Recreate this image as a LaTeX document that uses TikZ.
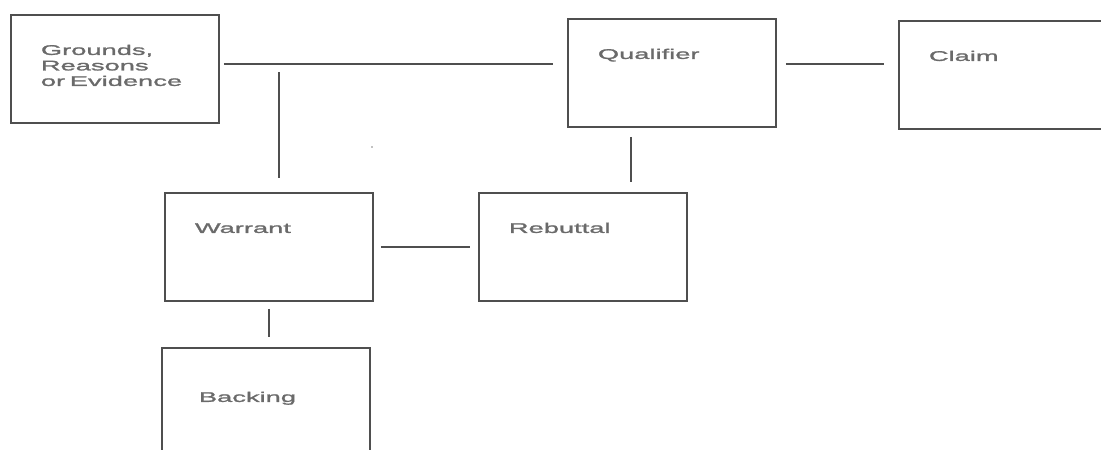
\documentclass[tikz,border=0pt]{standalone}
\usepackage{fontspec}
\usepackage{xcolor}
\usetikzlibrary{positioning, calc}
\newfontfamily\boxfont[FakeStretch=1.95,FakeBold=1.6]{Liberation Sans}
\definecolor{tmLine}{HTML}{4F4F4F}
\definecolor{tmText}{HTML}{6A6A6A}

\begin{document}
\begin{tikzpicture}[x=1pt,y=1pt,
  argbox/.style={draw=tmLine,line width=1.8pt,anchor=north west,align=left,
    text width=148pt,inner xsep=30pt,inner ysep=0pt,text height=40pt,text depth=68pt,
    font=\boxfont\fontsize{14}{15.5}\selectfont,text=tmText},
  link/.style={draw=tmLine,line width=1.8pt}]
\useasboundingbox (0,0) rectangle (1101,450);
\clip (0,0) rectangle (1101,450);

\node[argbox] (grounds) at (10,436) {Grounds,\\Reasons\\or Evidence};
\node[argbox] (qualifier) at (567,432) {Qualifier};
\node[argbox] (claim) at (898,430) {Claim};
\node[argbox] (warrant) at (164,258) {Warrant};
\node[argbox] (rebuttal) at (478,258) {Rebuttal};
\node[argbox,inner xsep=37pt,text width=134pt,text height=54pt,text depth=54pt] (backing) at (161,103) {Backing};

\coordinate (gtop) at ([xshift=10pt,yshift=120pt]warrant.north);
\draw[link] ([xshift=4pt,yshift=5pt]grounds.east) -- ([xshift=-14pt,yshift=5pt]grounds.east -| qualifier.west);
\draw[link,shorten <=14pt] ([xshift=10pt]warrant.north) -- (gtop);
\draw[link,shorten <=9pt,shorten >=14pt] ([yshift=9pt]qualifier.east) -- ([yshift=9pt]qualifier.east -| claim.west);
\draw[link,shorten <=9pt,shorten >=10pt] ([xshift=-41pt]qualifier.south) -- ([xshift=-41pt]qualifier.south |- rebuttal.north);
\draw[link,shorten <=7pt,shorten >=8pt] (warrant.east) -- (rebuttal.west);
\draw[link,shorten <=7pt,shorten >=10pt] (warrant.south) -- (warrant.south |- backing.north);
\fill[tmLine!70] (372,303) circle (0.9pt);
\end{tikzpicture}
\end{document}
